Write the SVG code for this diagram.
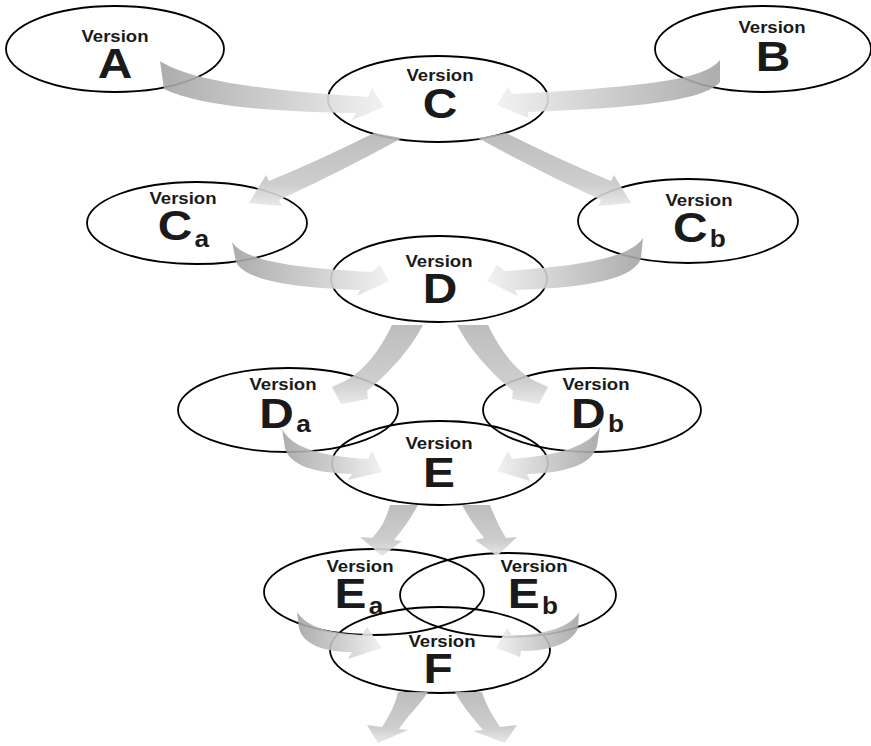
<svg xmlns="http://www.w3.org/2000/svg" width="871" height="746" viewBox="0 0 871 746">
<style>
.n ellipse{fill:none;stroke:#000;stroke-width:1.8}
text{font-family:"Liberation Sans",Arial,sans-serif;font-weight:bold;fill:#1a1a1a;text-anchor:middle}
.v{font-size:16.3px}
.L{font-size:42px}
.s{font-size:23px}
#connectors path{opacity:0.9}
.r{fill:url(#gL2R)}
.l{fill:url(#gR2L)}
.d{fill:url(#gDown)}
</style>
<defs>
<linearGradient id="gL2R" x1="0" y1="0" x2="1" y2="0">
<stop offset="0" stop-color="#a4a4a4"/><stop offset="0.5" stop-color="#c8c8c8"/><stop offset="1" stop-color="#f0f0f0"/>
</linearGradient>
<linearGradient id="gR2L" x1="1" y1="0" x2="0" y2="0">
<stop offset="0" stop-color="#a4a4a4"/><stop offset="0.5" stop-color="#c8c8c8"/><stop offset="1" stop-color="#f0f0f0"/>
</linearGradient>
<linearGradient id="gDown" x1="0" y1="0" x2="0" y2="1">
<stop offset="0" stop-color="#b6b6b6"/><stop offset="0.7" stop-color="#c8c8c8"/><stop offset="1" stop-color="#e6e6e6"/>
</linearGradient>
</defs>
<rect width="871" height="746" fill="#fff"/>

<g id="nodeA" class="n"><ellipse cx="115" cy="49" rx="109" ry="43"/>
<text transform="translate(115,0) scale(1.14,1)"><tspan class="v" x="0" y="42">Version</tspan><tspan class="L" x="0" y="78">A</tspan></text></g>
<g id="nodeB" class="n"><ellipse cx="763" cy="49" rx="108" ry="43"/>
<text transform="translate(772,0) scale(1.14,1)"><tspan class="v" x="0" y="33">Version</tspan><tspan class="L" x="0.9" y="71">B</tspan></text></g>
<g id="nodeC" class="n"><ellipse cx="438" cy="99" rx="110" ry="43"/>
<text transform="translate(440,0) scale(1.14,1)"><tspan class="v" x="0" y="81">Version</tspan><tspan class="L" x="0" y="118">C</tspan></text></g>
<g id="nodeCa" class="n"><ellipse cx="197" cy="223" rx="110" ry="41"/>
<text transform="translate(183,0) scale(1.14,1)"><tspan class="v" x="0" y="204">Version</tspan><tspan class="L" x="0.4" y="240">C</tspan><tspan class="s" dx="2" dy="7">a</tspan></text></g>
<g id="nodeCb" class="n"><ellipse cx="688" cy="221" rx="110" ry="42"/>
<text transform="translate(699,0) scale(1.14,1)"><tspan class="v" x="0" y="206">Version</tspan><tspan class="L" x="0.4" y="242">C</tspan><tspan class="s" dx="2" dy="5">b</tspan></text></g>
<g id="nodeD" class="n"><ellipse cx="439" cy="279" rx="108" ry="43"/>
<text transform="translate(439,0) scale(1.14,1)"><tspan class="v" x="0" y="267">Version</tspan><tspan class="L" x="0.9" y="303">D</tspan></text></g>
<g id="nodeDa" class="n"><ellipse cx="288" cy="410" rx="110" ry="42"/>
<text transform="translate(283,0) scale(1.14,1)"><tspan class="v" x="0" y="390">Version</tspan><tspan class="L" x="1.8" y="428">D</tspan><tspan class="s" dx="2" dy="4">a</tspan></text></g>
<g id="nodeDb" class="n"><ellipse cx="592" cy="410" rx="109" ry="42"/>
<text transform="translate(596,0) scale(1.14,1)"><tspan class="v" x="0" y="390">Version</tspan><tspan class="L" x="1.3" y="428">D</tspan><tspan class="s" dx="2" dy="4">b</tspan></text></g>
<g id="nodeE" class="n"><ellipse cx="440" cy="463" rx="108" ry="42"/>
<text transform="translate(439,0) scale(1.14,1)"><tspan class="v" x="0" y="449">Version</tspan><tspan class="L" x="0" y="487">E</tspan></text></g>
<g id="nodeEa" class="n"><ellipse cx="374" cy="592" rx="110" ry="43"/>
<text transform="translate(360,0) scale(1.14,1)"><tspan class="v" x="0" y="572">Version</tspan><tspan class="L" x="-0.9" y="608">E</tspan><tspan class="s" dx="2" dy="6">a</tspan></text></g>
<g id="nodeEb" class="n"><ellipse cx="508" cy="595" rx="108" ry="42"/>
<text transform="translate(534,0) scale(1.14,1)"><tspan class="v" x="0" y="572">Version</tspan><tspan class="L" x="-0.9" y="608">E</tspan><tspan class="s" dx="2" dy="6">b</tspan></text></g>
<g id="nodeF" class="n"><ellipse cx="440" cy="650" rx="110" ry="43"/>
<text transform="translate(442,0) scale(1.14,1)"><tspan class="v" x="0" y="647">Version</tspan><tspan class="L" x="-3.5" y="683">F</tspan></text></g>

<g id="connectors">
<path class="r" d="M160,61 C185,78 250,90 368,97 L372,88 L384,107 L352,120 L356,113 C270,112 200,106 164,89 Z"/>
<path class="l" d="M720,60 C705,78 660,86 512,94 L508,87 L497,105 L528,118 L528,112 C640,108 705,100 720,82 Z"/>
<path class="d" d="M374,133 Q320,160 269,181 L266,175 L249,203 L282,206 L279,200 Q340,172 402,138 Z"/>
<path class="d" d="M506,133 Q560,160 611,181 L614,175 L631,203 L598,206 L601,200 Q540,172 478,138 Z"/>
<path class="r" d="M232,242 C245,262 300,268 372,272 L380,265 L389,281 L357,296 L360,290 C290,288 245,280 236,262 Z"/>
<path class="l" d="M643,238 C630,258 580,266 505,271 L497,265 L487,281 L518,296 L515,290 C590,288 635,278 641,258 Z"/>
<path class="d" d="M392,325 C380,350 365,370 345,381 L332,387 L341,404 L368,399 L367,391 C390,372 410,350 423,325 Z"/>
<path class="d" d="M488,325 C500,350 515,370 535,381 L548,387 L539,404 L512,399 L513,391 C490,372 470,350 457,325 Z"/>
<path class="r" d="M282,429 C292,448 320,456 368,459 L372,451 L382,472 L348,480 L352,474 C315,473 290,466 285,448 Z"/>
<path class="l" d="M600,427 C590,446 560,455 512,459 L508,451 L497,471 L530,481 L527,474 C565,473 592,465 597,446 Z"/>
<path class="d" d="M390,505 C386,520 380,530 372,538 L360,537 L382,556 L402,541 L394,540 C402,530 410,520 418,505 Z"/>
<path class="d" d="M462,505 C470,520 478,530 484,538 L475,540 L497,556 L517,537 L506,538 C500,528 495,518 490,505 Z"/>
<path class="r" d="M297,612 C308,628 330,633 362,635 L367,627 L382,648 L348,659 L352,652 C325,652 303,645 299,628 Z"/>
<path class="l" d="M579,612 C570,628 545,634 512,636 L507,628 L496,648 L520,657 L521,651 C548,651 572,644 578,628 Z"/>
<path class="d" d="M398,692 C395,705 390,715 382,727 L367,725 L378,743 L408,730 L399,729 C408,715 420,705 428,692 Z"/>
<path class="d" d="M455,692 C462,705 470,715 483,730 L473,731 L505,743 L517,725 L500,727 C492,715 486,705 482,692 Z"/>
</g>
</svg>
